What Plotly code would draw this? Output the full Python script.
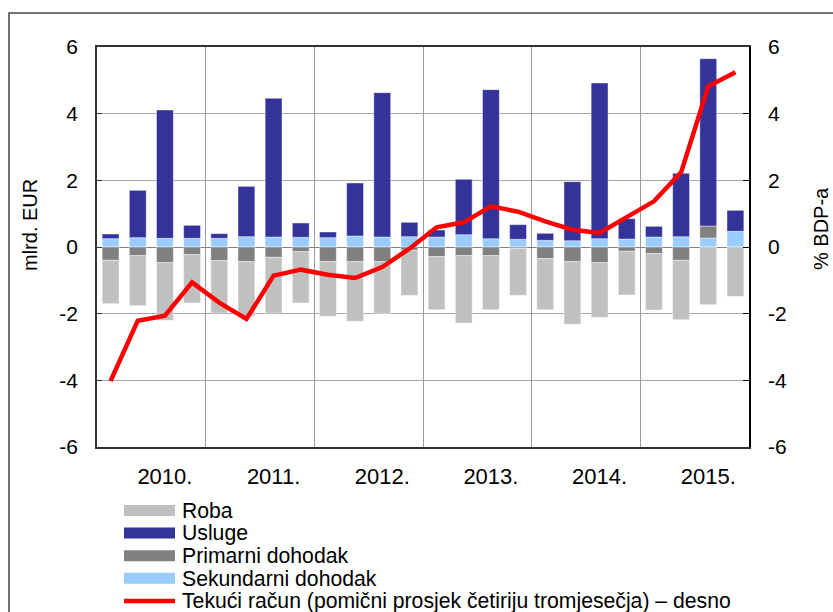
import plotly.graph_objects as go

years = ["2010.", "2011.", "2012.", "2013.", "2014.", "2015."]
quarters_per_year = 4
y_ticks = [-6, -4, -2, 0, 2, 4, 6]
y_ticktext = ["-6", "-4", "-2", "0", "2", "4", "6"]

roba = [-1.30, -1.50, -1.73, -1.45, -1.57, -1.64, -1.67, -1.54,
        -1.64, -1.79, -1.55, -1.35, -1.59, -2.02, -1.62, -1.41,
        -1.53, -1.88, -1.64, -1.31, -1.69, -1.78, -1.73, -1.48]
usluge = [0.14, 1.42, 3.85, 0.39, 0.14, 1.51, 4.16, 0.43,
          0.17, 1.59, 4.33, 0.43, 0.21, 1.66, 4.47, 0.44,
          0.21, 1.77, 4.67, 0.61, 0.32, 1.90, 5.02, 0.63]
primarni = [-0.40, -0.26, -0.47, -0.23, -0.41, -0.44, -0.31, -0.14,
            -0.44, -0.44, -0.44, -0.10, -0.29, -0.26, -0.26, -0.04,
            -0.35, -0.44, -0.47, -0.13, -0.20, -0.40, 0.36, 0.00]
sekundarni = [0.25, 0.28, 0.26, 0.26, 0.26, 0.31, 0.30, 0.29,
              0.28, 0.33, 0.30, 0.31, 0.30, 0.37, 0.25, 0.23,
              0.20, 0.19, 0.25, 0.24, 0.30, 0.31, 0.27, 0.47]
tekuci = [-4.02, -2.21, -2.06, -1.06, -1.67, -2.16, -0.86, -0.68,
          -0.83, -0.93, -0.60, -0.05, 0.59, 0.74, 1.22, 1.06,
          0.77, 0.52, 0.42, 0.88, 1.37, 2.24, 4.82, 5.24]

names = ["Roba", "Usluge", "Primarni dohodak", "Sekundarni dohodak",
         "Tekući račun (pomični prosjek četiriju tromjesečja) – desno"]
colors = {"Roba": "#C0C0C0", "Usluge": "#333399", "Primarni dohodak": "#808080",
          "Sekundarni dohodak": "#99CCFF",
          "Tekući račun (pomični prosjek četiriju tromjesečja) – desno": "#FF0000"}

n = len(roba)
xpos = [i + 0.5 for i in range(n)]
FONT = "Liberation Sans, Arial, sans-serif"

# plot-area geometry in pixels (for paper-coordinate conversion of legend / frame)
W, H = 833, 612
ML, MR, MT, MB = 97, 84, 47, 165
PW, PH = W - ML - MR, H - MT - MB


def px_x(p):
    return (p - ML) / PW


def px_y(p):
    return (H - MB - p) / PH


fig = go.Figure()
bar_w = 0.62
for name, vals in [("Sekundarni dohodak", sekundarni), ("Primarni dohodak", primarni),
                   ("Usluge", usluge), ("Roba", roba)]:
    fig.add_trace(go.Bar(x=xpos, y=vals, width=bar_w, name=name, showlegend=False,
                         marker=dict(color=colors[name],
                                     line=dict(color="rgba(255,255,255,0.7)", width=0.6))))

fig.add_trace(go.Scatter(x=xpos, y=tekuci, mode="lines", yaxis="y2", showlegend=False,
                         name=names[4], line=dict(color="#FF0000", width=4.5)))

# manual legend (swatches + labels)
shapes = [dict(type="rect", xref="paper", yref="paper", x0=px_x(9), x1=px_x(900),
               y0=px_y(700), y1=px_y(13), line=dict(color="#444444", width=1.5), layer="below")]
annotations = [
    dict(text="mlrd. EUR", x=px_x(30), y=px_y(225), xref="paper", yref="paper",
         xanchor="center", yanchor="middle",
         textangle=-90, showarrow=False, font=dict(size=20)),
    dict(text="% BDP-a", x=px_x(821), y=px_y(229), xref="paper", yref="paper",
         xanchor="center", yanchor="middle",
         textangle=-90, showarrow=False, font=dict(size=20)),
]
leg_top, leg_step = 510.5, 22.6
for i, name in enumerate(names):
    yc = leg_top + i * leg_step
    is_line = i == len(names) - 1
    shapes.append(dict(type="line", xref="paper", yref="paper",
                       x0=px_x(124), x1=px_x(175), y0=px_y(yc), y1=px_y(yc),
                       line=dict(color=colors[name], width=4.5 if is_line else 11)))
    annotations.append(dict(text=name, x=px_x(180), y=px_y(yc), xref="paper", yref="paper",
                            xanchor="left", yanchor="middle", showarrow=False,
                            font=dict(size=21.2)))

year_labels_pos = [quarters_per_year * i + quarters_per_year / 2 + 0.5 for i in range(len(years))]
year_bounds = [quarters_per_year * i for i in range(1, len(years))]

fig.update_layout(
    width=W, height=H,
    margin=dict(l=ML, r=MR, t=MT, b=MB),
    paper_bgcolor="white", plot_bgcolor="white",
    barmode="relative",
    font=dict(family=FONT, size=21, color="black"),
    showlegend=False,
    xaxis=dict(range=[0, n], tickmode="array", tickvals=year_labels_pos, ticktext=years,
               ticks="", showgrid=False, zeroline=False,
               showline=True, linecolor="#333333", linewidth=1.5, mirror=True,
               ticklabelstandoff=9, tickfont=dict(size=22),
               minor=dict(tickmode="array", tickvals=year_bounds, showgrid=True,
                          gridcolor="#9a9a9a", gridwidth=1, ticks="")),
    yaxis=dict(range=[-6, 6], tickmode="array", tickvals=y_ticks, ticktext=y_ticktext,
               ticks="inside", ticklen=5,
               tickcolor="#333333", showgrid=True, gridcolor="#a8a8a8", gridwidth=1,
               zeroline=True, zerolinecolor="#808080", zerolinewidth=1.2,
               showline=True, linecolor="#333333", linewidth=1.5, mirror=True,
               ticklabelstandoff=13, tickfont=dict(size=21)),
    yaxis2=dict(range=[-6, 6], tickmode="array", tickvals=y_ticks, ticktext=y_ticktext,
                overlaying="y", side="right",
                ticks="inside", ticklen=6, tickcolor="black", showgrid=False, zeroline=False,
                showline=True, linecolor="black", linewidth=1.5,
                ticklabelstandoff=13, tickfont=dict(size=21)),
    annotations=annotations,
    shapes=shapes,
)

fig.write_html("out.html", config={"displayModeBar": False},
               post_script="document.body.style.margin='0';")
